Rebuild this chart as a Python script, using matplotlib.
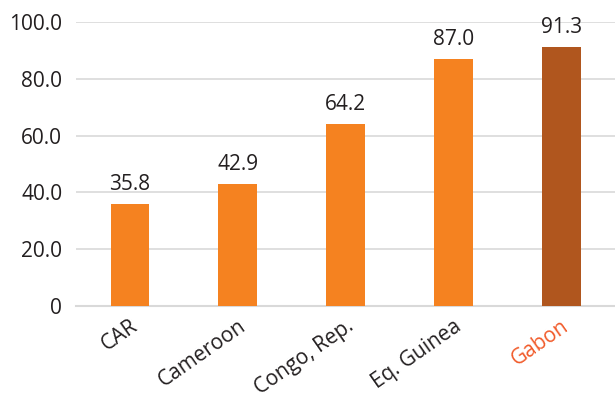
import matplotlib.pyplot as plt

countries = ["CAR", "Cameroon", "Congo, Rep.", "Eq. Guinea", "Gabon"]
values = [35.8, 42.9, 64.2, 87.0, 91.3]
yticks = [0, 20, 40, 60, 80, 100]
ytick_labels = ["0", "20.0", "40.0", "60.0", "80.0", "100.0"]

orange = "#F58220"
brown = "#B0561E"
highlight = "Gabon"

plt.rcParams["font.family"] = ["Open Sans", "DejaVu Sans"]
fs = 15

fig = plt.figure(figsize=(6.15, 3.93), dpi=100)
ax = fig.add_axes([0.1236, 0.2214, 0.8764, 0.7226])

colors = [brown if c == highlight else orange for c in countries]
x = range(len(countries))
bars = ax.bar(x, values, width=0.36, color=colors, zorder=3)

for b, v in zip(bars, values):
    ax.text(b.get_x() + b.get_width() / 2, v + 3.2, "%.1f" % v,
            ha="center", va="bottom", fontsize=fs, color="#231F20", clip_on=False)

ax.set_xlim(-0.5, len(countries) - 0.5)
ax.set_ylim(0, 100)
ax.set_yticks(yticks)
ax.set_yticklabels(ytick_labels, fontsize=fs, color="#231F20")
ax.yaxis.grid(True, color="#D9D9D9", linewidth=1.2, zorder=0)
ax.set_axisbelow(True)

ax.set_xticks(list(x))
ax.set_xticklabels(countries, rotation=35, ha="right", rotation_mode="anchor",
                   fontsize=fs, color="#231F20")
for lbl in ax.get_xticklabels():
    if lbl.get_text() == highlight:
        lbl.set_color("#F15A29")

ax.tick_params(axis="both", length=0)
ax.tick_params(axis="y", pad=10)
ax.tick_params(axis="x", pad=7)
for s in ["top", "right", "left"]:
    ax.spines[s].set_visible(False)
ax.spines["bottom"].set_color("#D9D9D9")
ax.spines["bottom"].set_linewidth(1.5)

fig.savefig("out.png", dpi=100)
